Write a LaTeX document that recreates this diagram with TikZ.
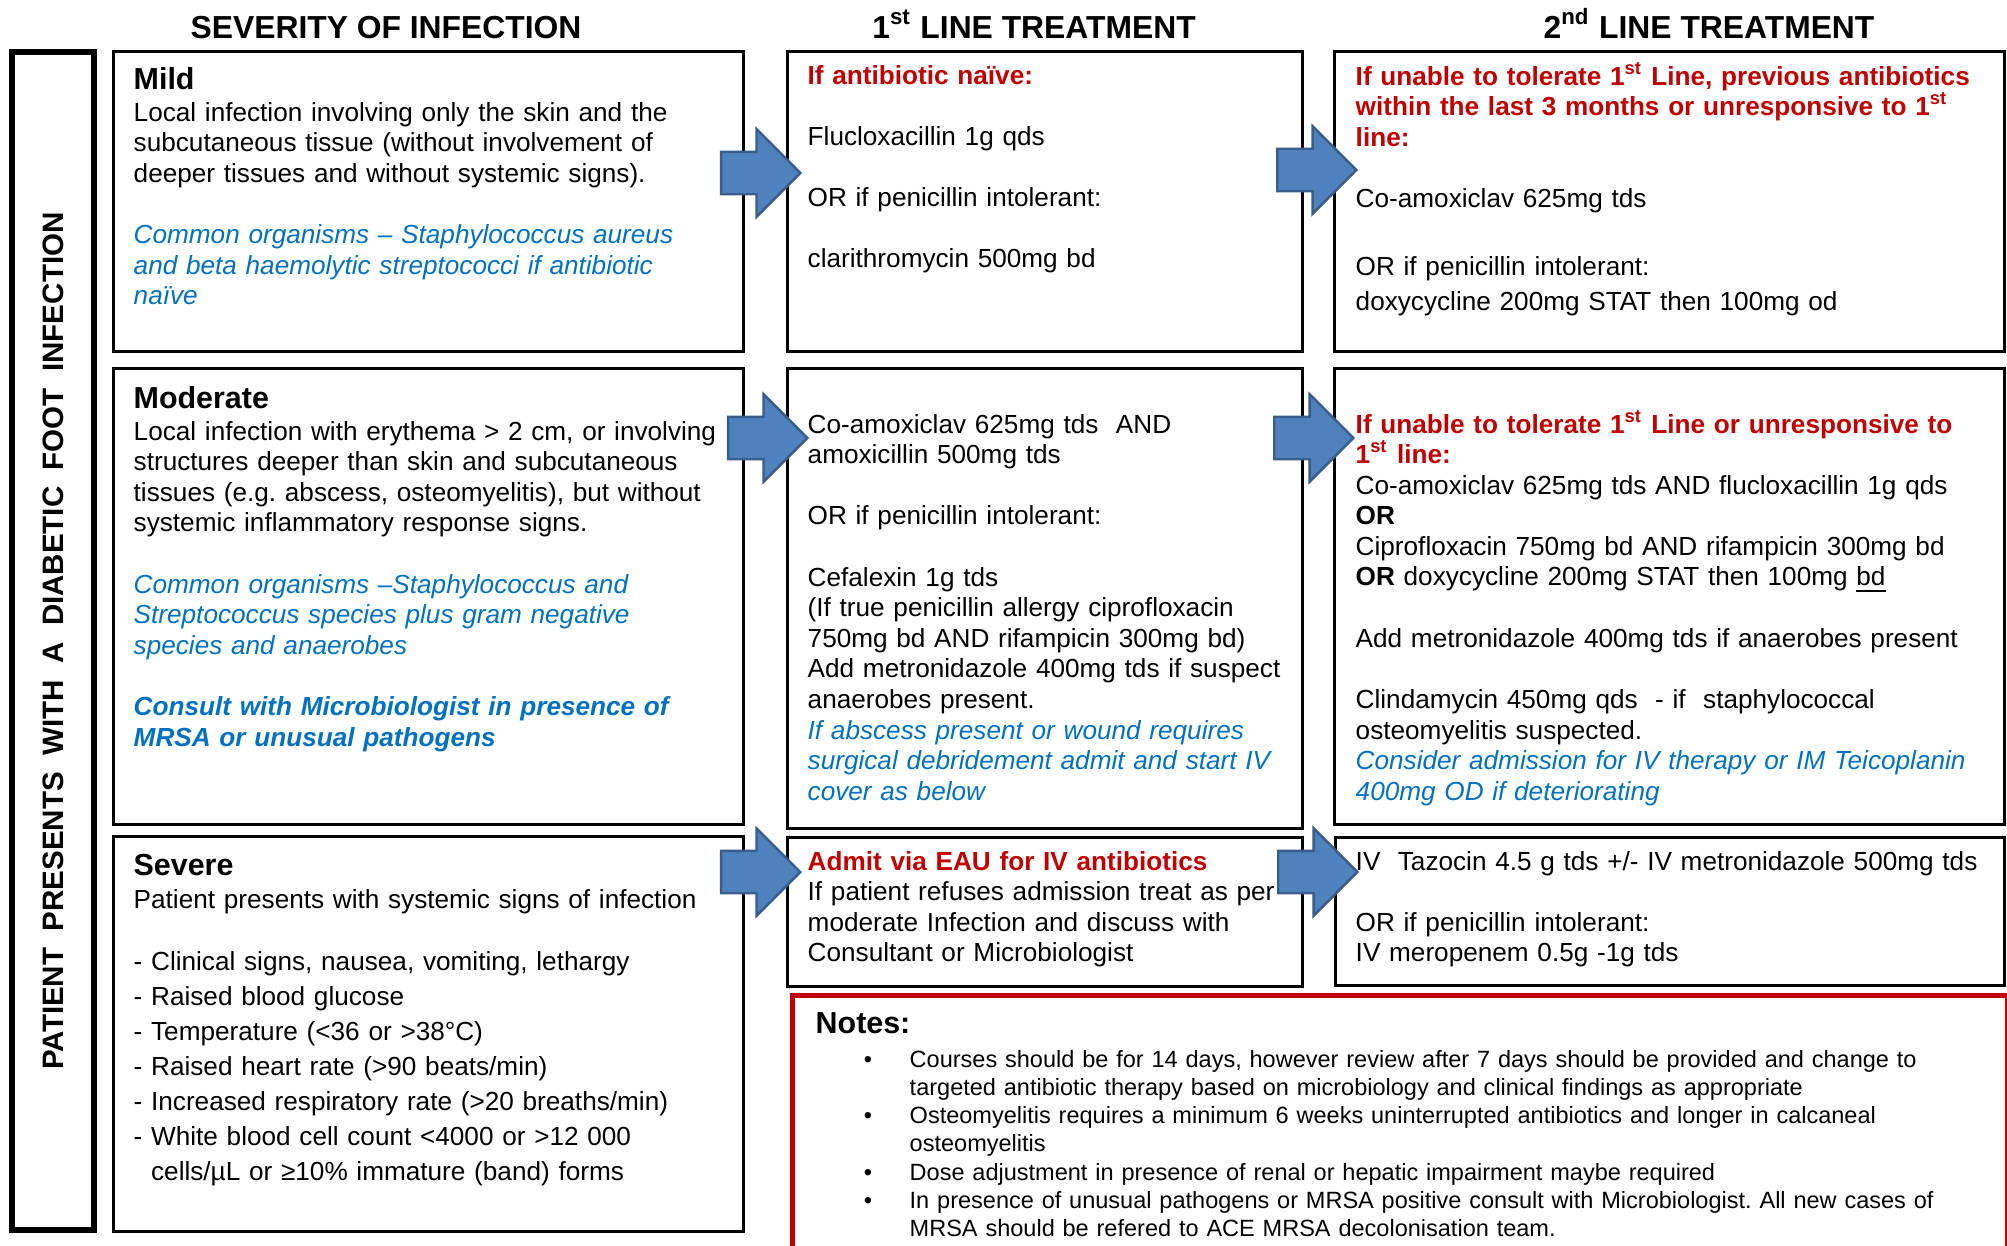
\documentclass[tikz,border=0pt]{standalone}
\usepackage{fontspec}
\setmainfont{Liberation Sans}
\usetikzlibrary{shapes.arrows}
\definecolor{cR}{RGB}{192,0,0}
\definecolor{cB}{RGB}{0,112,192}
\definecolor{cA}{RGB}{79,129,189}
\definecolor{cAd}{RGB}{56,93,138}
\newcommand{\bodyfont}{\fontsize{7.44pt}{8.7pt}\selectfont}
\newcommand{\listfont}{\fontsize{7.44pt}{9.96pt}\selectfont}
\newcommand{\headfont}{\fontsize{8.65pt}{8.7pt}\selectfont\bfseries}
\newcommand{\titlefont}{\fontsize{9.05pt}{10pt}\selectfont\bfseries}
\newcommand{\sidefont}{\fontsize{8.4pt}{10pt}\selectfont\bfseries}
\newcommand{\notefont}{\fontsize{6.69pt}{8.05pt}\selectfont}
\newcommand{\rd}{\color{cR}\bfseries}
\newcommand{\bl}{\color{cB}\itshape}
\newcommand{\itm}{\leavevmode\llap{\textbullet\hspace{0.375cm}}}
\setlength{\lineskiplimit}{-20pt}
\frenchspacing

\begin{document}
\begin{tikzpicture}[x=0.01cm, y=0.01cm,
    box/.style={draw, line width=0.85pt, anchor=north west, inner sep=0pt},
    txt/.style={anchor=base west, inner sep=0pt, text width=12cm, align=left, font=\bodyfont},
    title/.style={anchor=base, inner sep=0pt, font=\titlefont},
    fat/.style={single arrow, draw=cAd, fill=cA, line width=0.7pt, anchor=tip, inner xsep=0pt,
        inner ysep=0.2cm, minimum height=0.79cm, single arrow head extend=0.225cm}]
    \useasboundingbox (0,0) rectangle (2007,-1245);

    \node[title] (t0) at (386,-38) {SEVERITY OF INFECTION};
    \node[title] (t1) at (1034,-38) {1\textsuperscript{st} LINE TREATMENT};
    \node[title] (t2) at (1709,-38) {2\textsuperscript{nd} LINE TREATMENT};

    \node[draw, line width=1.7pt, rotate=90, inner sep=0pt, minimum width=11.77cm, minimum height=0.82cm,
        font=\sidefont] (side) at (53,-641)
        {PATIENT\ \ PRESENTS\ \ WITH\ \ A\ \ DIABETIC\ \ FOOT\ \ INFECTION};

    % severity column
    \node[box, minimum width=6.3cm, minimum height=3cm] (mild) at (112,-50) {};
    \node[box, minimum width=6.3cm, minimum height=4.56cm] (mod) at (112,-367) {};
    \node[box, minimum width=6.3cm, minimum height=3.95cm] (sev) at (112,-835) {};
    % 1st and 2nd line
    \node[box, minimum width=5.15cm, minimum height=3cm] (mildA) at (786,-50) {};
    \node[box, minimum width=5.15cm, minimum height=4.6cm] (modA) at (786,-367) {};
    \node[box, minimum width=5.15cm, minimum height=1.49cm] (sevA) at (786,-836) {};
    \node[box, minimum width=6.7cm, minimum height=3cm] (mildB) at (1333,-50) {};
    \node[box, minimum width=6.7cm, minimum height=4.56cm] (modB) at (1333,-367) {};
    \node[box, minimum width=6.69cm, minimum height=1.48cm] (sevB) at (1334,-836) {};
    \node[box, draw=cR, line width=1.4pt, minimum width=12.14cm, minimum height=3cm] (notes) at (790,-993) {};

    \node[txt] (mildtxt) at (133,-89) {{\headfont Mild}\\[0.014cm]
        Local infection involving only the skin and the\\
        subcutaneous tissue (without involvement of\\
        deeper tissues and without systemic signs).\\[0.306cm]
        {\bl Common organisms – Staphylococcus aureus\\
        and beta haemolytic streptococci if antibiotic\\
        naïve}};
    \node[txt] (modtxt) at (133,-408) {{\headfont Moderate}\\[0.014cm]
        Local infection with erythema > 2 cm, or involving\\
        structures deeper than skin and subcutaneous\\
        tissues (e.g. abscess, osteomyelitis), but without\\
        systemic inflammatory response signs.\\[0.306cm]
        {\bl Common organisms –Staphylococcus and\\
        Streptococcus species plus gram negative\\
        species and anaerobes\\[0.306cm]
        \bfseries Consult with Microbiologist in presence of\\
        MRSA or unusual pathogens}};
    \node[txt] (sevtxt) at (133,-875) {{\headfont Severe}\\[0.024cm]
        Patient presents with systemic signs of infection};
    \node[txt, font=\listfont] (sevlist) at (133,-970) {- Clinical signs, nausea, vomiting, lethargy\\
        - Raised blood glucose\\
        - Temperature (<36 or >38°C)\\
        - Raised heart rate (>90 beats/min)\\
        - Increased respiratory rate (>20 breaths/min)\\
        - White blood cell count <4000 or >12 000\\
        \hphantom{- }cells/µL or ≥10\% immature (band) forms};

    \node[txt] (mildAtxt) at (807,-84) {{\rd If antibiotic naïve:}\\[0.306cm]
        Flucloxacillin 1g qds\\[0.306cm]
        OR if penicillin intolerant:\\[0.306cm]
        clarithromycin 500mg bd};
    \node[txt] (modAtxt) at (807,-433) {Co-amoxiclav 625mg tds\ \ AND\\
        amoxicillin 500mg tds\\[0.306cm]
        OR if penicillin intolerant:\\[0.306cm]
        Cefalexin 1g tds\\
        (If true penicillin allergy ciprofloxacin\\
        750mg bd AND rifampicin 300mg bd)\\
        Add metronidazole 400mg tds if suspect\\
        anaerobes present.\\
        {\bl If abscess present or wound requires\\
        surgical debridement admit and start IV\\
        cover as below}};
    \node[txt] (sevAtxt) at (807,-870) {{\rd Admit via EAU for IV antibiotics}\\
        If patient refuses admission treat as per\\
        moderate Infection and discuss with\\
        Consultant or Microbiologist};

    \node[txt] (mildBtxt) at (1355,-85) {{\rd If unable to tolerate 1\textsuperscript{st} Line, previous antibiotics\\
        within the last 3 months or unresponsive to 1\textsuperscript{st}\\
        line:}\\[0.306cm]
        Co-amoxiclav 625mg tds\\[0.374cm]
        OR if penicillin intolerant:\\[0.044cm]
        doxycycline 200mg STAT then 100mg od};
    \node[txt] (modBtxt) at (1355,-433) {{\rd If unable to tolerate 1\textsuperscript{st} Line or unresponsive to\\
        1\textsuperscript{st} line:}\\
        Co-amoxiclav 625mg tds AND flucloxacillin 1g qds\\
        \textbf{OR}\\
        Ciprofloxacin 750mg bd AND rifampicin 300mg bd\\
        \textbf{OR} doxycycline 200mg STAT then 100mg \underline{bd}\\[0.306cm]
        Add metronidazole 400mg tds if anaerobes present\\[0.306cm]
        Clindamycin 450mg qds\ \ - if\ \ staphylococcal\\
        osteomyelitis suspected.\\
        {\bl Consider admission for IV therapy or IM Teicoplanin\\
        400mg OD if deteriorating}};
    \node[txt] (sevBtxt) at (1355,-870) {IV\ \ Tazocin 4.5 g tds +/- IV metronidazole 500mg tds\\[0.306cm]
        OR if penicillin intolerant:\\
        IV meropenem 0.5g -1g tds};

    \node[txt, font=\headfont] (notehd) at (815,-1033) {Notes:};
    \node[txt, font=\notefont] (notetxt) at (909,-1067) {\itm Courses should be for 14 days, however review after 7 days should be provided and change to\\
        targeted antibiotic therapy based on microbiology and clinical findings as appropriate\\
        \itm Osteomyelitis requires a minimum 6 weeks uninterrupted antibiotics and longer in calcaneal\\
        osteomyelitis\\
        \itm Dose adjustment in presence of renal or hepatic impairment maybe required\\
        \itm In presence of unusual pathogens or MRSA positive consult with Microbiologist. All new cases of\\
        MRSA should be refered to ACE MRSA decolonisation team.};

    \node[fat] (a1) at (802,-173) {};
    \node[fat] (a2) at (1358,-170) {};
    \node[fat] (a3) at (809,-438) {};
    \node[fat] (a4) at (1355,-438) {};
    \node[fat] (a5) at (802,-872) {};
    \node[fat] (a6) at (1359,-872) {}; % block arrows sit over the box edges
\end{tikzpicture}
\end{document}
